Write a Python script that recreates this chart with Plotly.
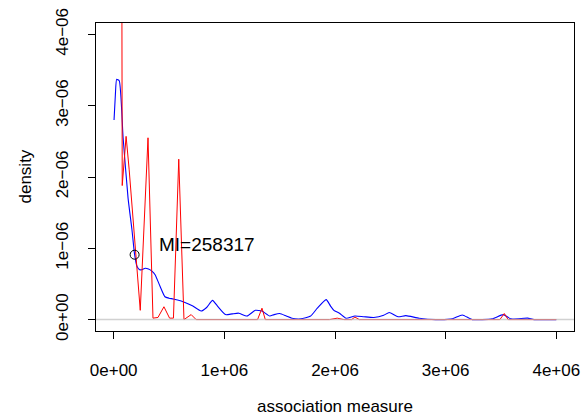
import plotly.graph_objects as go

# density of association measure (blue)
blue_x = [0.003, 0.015, 0.027, 0.05, 0.085, 0.13, 0.165, 0.189, 0.211, 0.235, 0.255, 0.285,
          0.314, 0.345, 0.374, 0.418, 0.463, 0.50, 0.537, 0.61, 0.66, 0.715, 0.79, 0.84,
          0.893, 0.938, 1.01, 1.07, 1.13, 1.205, 1.28, 1.34, 1.41, 1.45, 1.50, 1.56, 1.61,
          1.69, 1.78, 1.84, 1.92, 1.96, 1.99, 2.04, 2.10, 2.18, 2.26, 2.35, 2.44, 2.49,
          2.57, 2.64, 2.76, 2.91, 3.06, 3.15, 3.24, 3.42, 3.52, 3.59, 3.74, 3.80, 4.0]
blue_y = [2.80, 3.15, 3.37, 3.35, 2.55, 1.70, 1.26, 0.91, 0.745, 0.70, 0.70, 0.72,
          0.71, 0.68, 0.63, 0.47, 0.32, 0.30, 0.29, 0.26, 0.23, 0.19, 0.12, 0.17,
          0.27, 0.19, 0.07, 0.08, 0.09, 0.05, 0.13, 0.12, 0.05, 0.07, 0.085, 0.05, 0.02,
          0.01, 0.05, 0.16, 0.28, 0.19, 0.13, 0.09, 0.02, 0.05, 0.04, 0.03, 0.06, 0.10,
          0.04, 0.055, 0.02, 0.0, 0.01, 0.065, 0.0, 0.01, 0.07, 0.01, 0.02, 0.0, 0.0]

# null distribution (red)
red_x = [0.07, 0.077, 0.112, 0.14, 0.24, 0.31, 0.355, 0.40, 0.454, 0.505, 0.54, 0.588,
         0.635, 0.70, 0.745, 0.90, 0.95, 1.0, 1.30, 1.34, 1.37, 1.95, 2.02, 2.08, 2.15,
         2.18, 2.22, 3.49, 3.53, 3.565, 4.0]
red_y = [8.0, 1.88, 2.57, 2.10, 0.13, 2.55, 0.02, 0.03, 0.18, 0.02, 0.02, 2.25,
         0.0, 0.07, 0.0, 0.0, 0.01, 0.0, 0.0, 0.16, 0.0, 0.0, 0.02, 0.0, 0.0,
         0.035, 0.0, 0.0, 0.085, 0.0, 0.0]

mi_point_x = [0.189]
mi_point_y = [0.91]
mi_label = "MI=258317"

x_ticks = [0, 1e6, 2e6, 3e6, 4e6]
x_tick_labels = ["0e+00", "1e+06", "2e+06", "3e+06", "4e+06"]
y_ticks = [0, 1e-6, 2e-6, 3e-6, 4e-6]
y_tick_labels = ["0e+00", "1e\u221206", "2e\u221206", "3e\u221206", "4e\u221206"]

FONT = "Liberation Sans, Arial, Helvetica, sans-serif"

fig = go.Figure()
fig.add_trace(go.Scatter(x=[v * 1e6 for v in blue_x], y=[v * 1e-6 for v in blue_y],
                         mode="lines", line=dict(color="blue", width=1.1, shape="spline", smoothing=0.5),
                         showlegend=False))
fig.add_trace(go.Scatter(x=[v * 1e6 for v in red_x], y=[v * 1e-6 for v in red_y],
                         mode="lines", line=dict(color="red", width=1), showlegend=False))
fig.add_trace(go.Scatter(x=[v * 1e6 for v in mi_point_x], y=[v * 1e-6 for v in mi_point_y],
                         mode="markers",
                         marker=dict(symbol="circle-open", size=9, color="black",
                                     line=dict(width=1, color="black")),
                         showlegend=False))

fig.add_shape(type="line", xref="paper", x0=0, x1=1, yref="y", y0=0, y1=0,
              line=dict(color="rgba(190,190,190,0.7)", width=1.5), layer="above")

fig.add_annotation(x=0.39e6, y=1.06e-6, text=mi_label, showarrow=False,
                   xanchor="left", yanchor="middle", font=dict(size=19, color="black", family=FONT))

fig.add_annotation(xref="paper", yref="paper", x=0.5, y=0, text="association measure",
                   showarrow=False, xanchor="center", yanchor="top", yshift=-64,
                   font=dict(size=17, color="black", family=FONT))
fig.add_annotation(xref="paper", yref="paper", x=0, y=0.5, text="density",
                   showarrow=False, xanchor="center", yanchor="middle", xshift=-71.5,
                   textangle=-90, font=dict(size=17, color="black", family=FONT))

fig.update_xaxes(range=[-0.16e6, 4.16e6], tickvals=x_ticks, ticktext=x_tick_labels,
                 ticks="outside", ticklen=7, tickcolor="black", tickwidth=1,
                 showline=True, linecolor="black", linewidth=1, mirror=True,
                 showgrid=False, zeroline=False, ticklabelstandoff=17,
                 tickfont=dict(size=17, color="black", family=FONT))
fig.update_yaxes(range=[-0.16e-6, 4.16e-6], tickvals=y_ticks, ticktext=y_tick_labels,
                 ticks="outside", ticklen=7, tickcolor="black", tickwidth=1,
                 showline=True, linecolor="black", linewidth=1, mirror=True,
                 showgrid=False, zeroline=False, tickangle=-90, ticklabelstandoff=13,
                 tickfont=dict(size=17, color="black", family=FONT))

fig.update_layout(width=587, height=417, plot_bgcolor="white", paper_bgcolor="white",
                  margin=dict(l=95.5, r=7, t=23, b=86), showlegend=False)

fig.write_html("out.html")
